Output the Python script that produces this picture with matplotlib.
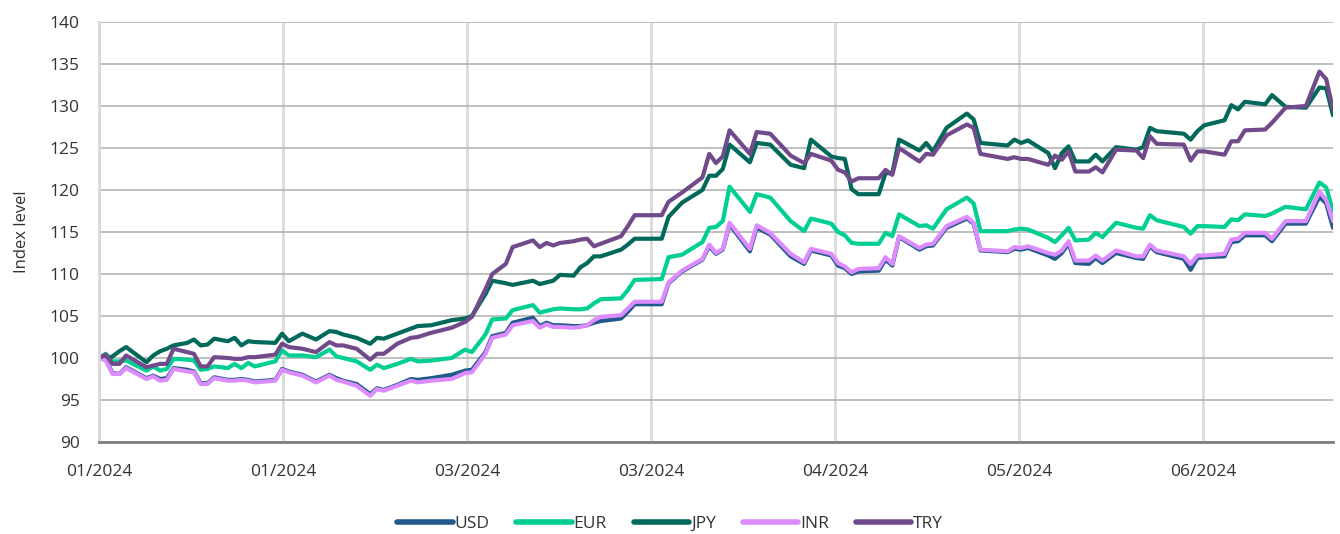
import numpy as np
import matplotlib
matplotlib.use("Agg")
import matplotlib.pyplot as plt

# ================= data =================
# calendar day offset from the start of the index (day 0 = 100)
days = [0, 1, 2, 3, 4, 7, 8, 9, 10, 11, 13, 14, 15, 16, 17, 19, 20, 21, 22, 23,
        26, 27, 28, 30, 32, 34, 35, 36, 38, 40, 41, 42, 44, 46, 47, 49, 52, 54, 55, 57,
        58, 60, 61, 64, 65, 66, 67, 68, 70, 71, 72, 73, 74, 77, 78, 79, 83, 84, 86, 89,
        90, 91, 92, 93, 96, 97, 99, 102, 104, 105, 108, 109, 110, 111, 112, 115, 116, 117, 118, 121,
        122, 123, 125, 128, 129, 130, 134, 135, 136, 137, 140, 141, 142, 143, 144, 146, 147, 148, 150, 153,
        154, 155, 156, 160, 161, 162, 163, 166, 167, 168, 169, 172, 173, 175, 178, 180, 181, 182]

usd = [100.0, 99.8, 98.2, 98.1, 98.9, 97.6, 97.9, 97.5, 97.6, 98.8, 98.6, 98.4, 97.0, 97.0, 97.7, 97.4, 97.4, 97.5, 97.4, 97.2,
       97.4, 98.7, 98.4, 98.0, 97.2, 98.0, 97.6, 97.3, 96.9, 95.7, 96.4, 96.2, 96.8, 97.5, 97.4, 97.6, 98.0, 98.5, 98.6, 100.7,
       102.6, 103.0, 104.2, 104.8, 103.8, 104.2, 103.9, 103.9, 103.8, 103.8, 103.9, 104.2, 104.4, 104.7, 105.5, 106.4, 106.4, 108.9, 110.3, 111.7,
       113.3, 112.4, 112.9, 115.9, 112.7, 115.5, 114.7, 112.1, 111.2, 112.8, 112.2, 111.0, 110.7, 110.0, 110.3, 110.4, 111.7, 111.0, 114.4, 112.9,
       113.3, 113.4, 115.5, 116.6, 116.0, 112.8, 112.6, 113.0, 112.9, 113.1, 112.2, 111.8, 112.5, 113.6, 111.3, 111.2, 111.9, 111.3, 112.5, 111.9,
       111.8, 113.3, 112.6, 111.8, 110.5, 111.9, 112.0, 112.1, 113.8, 113.9, 114.6, 114.6, 113.9, 116.0, 116.0, 119.2, 118.4, 115.5]

eur = [100.0, 100.5, 99.6, 99.6, 99.7, 98.5, 99.0, 98.5, 98.7, 99.9, 99.8, 99.7, 98.6, 98.7, 99.0, 98.8, 99.3, 98.8, 99.4, 99.0,
       99.6, 100.9, 100.3, 100.3, 100.1, 101.0, 100.2, 100.0, 99.6, 98.6, 99.2, 98.8, 99.3, 99.9, 99.6, 99.7, 100.0, 101.0, 100.7, 102.8,
       104.6, 104.7, 105.7, 106.3, 105.4, 105.6, 105.8, 105.9, 105.8, 105.8, 105.9, 106.5, 107.0, 107.1, 108.1, 109.3, 109.4, 112.0, 112.3, 113.8,
       115.5, 115.6, 116.3, 120.4, 117.4, 119.5, 119.1, 116.3, 115.1, 116.6, 116.0, 115.0, 114.6, 113.7, 113.6, 113.6, 114.9, 114.5, 117.1, 115.7,
       115.8, 115.4, 117.7, 119.1, 118.4, 115.1, 115.1, 115.3, 115.4, 115.3, 114.3, 113.8, 114.6, 115.5, 114.0, 114.1, 114.9, 114.4, 116.1, 115.5,
       115.4, 117.0, 116.4, 115.6, 114.8, 115.7, 115.7, 115.6, 116.5, 116.4, 117.1, 116.9, 117.2, 118.0, 117.7, 120.9, 120.3, 117.5]

jpy = [100.0, 99.9, 100.2, 100.8, 101.3, 99.5, 100.3, 100.8, 101.1, 101.5, 101.8, 102.2, 101.5, 101.6, 102.3, 102.0, 102.4, 101.5, 102.0, 101.9,
       101.8, 102.9, 102.0, 102.9, 102.2, 103.2, 103.1, 102.8, 102.4, 101.7, 102.4, 102.3, 102.9, 103.5, 103.8, 103.9, 104.5, 104.7, 105.0, 107.6,
       109.2, 108.9, 108.7, 109.2, 108.8, 109.0, 109.2, 109.9, 109.8, 110.8, 111.3, 112.1, 112.1, 112.9, 113.5, 114.2, 114.2, 116.8, 118.5, 120.0,
       121.7, 121.7, 122.5, 125.4, 123.3, 125.6, 125.4, 123.0, 122.6, 126.0, 124.0, 123.8, 123.7, 120.1, 119.5, 119.5, 122.0, 122.0, 126.0, 124.7,
       125.6, 124.6, 127.4, 129.1, 128.4, 125.6, 125.3, 126.0, 125.6, 125.9, 124.4, 122.6, 124.4, 125.2, 123.4, 123.4, 124.2, 123.4, 125.1, 124.8,
       125.1, 127.4, 127.0, 126.7, 126.0, 127.0, 127.7, 128.3, 130.1, 129.6, 130.5, 130.2, 131.3, 129.9, 129.8, 132.2, 132.1, 128.9]

inr = [100.0, 99.7, 98.1, 98.1, 98.8, 97.5, 97.8, 97.3, 97.4, 98.7, 98.4, 98.3, 96.9, 96.9, 97.6, 97.3, 97.3, 97.4, 97.3, 97.1,
       97.3, 98.6, 98.3, 97.9, 97.1, 97.9, 97.4, 97.2, 96.7, 95.5, 96.3, 96.1, 96.7, 97.3, 97.1, 97.3, 97.5, 98.2, 98.3, 100.5,
       102.4, 102.8, 103.9, 104.4, 103.6, 104.0, 103.7, 103.7, 103.6, 103.7, 103.9, 104.5, 104.9, 105.1, 105.9, 106.7, 106.7, 109.0, 110.4, 111.8,
       113.5, 112.5, 113.0, 116.1, 113.0, 115.8, 114.9, 112.4, 111.4, 113.0, 112.4, 111.3, 110.9, 110.2, 110.6, 110.7, 112.0, 111.2, 114.5, 113.1,
       113.5, 113.6, 115.7, 116.8, 116.1, 112.9, 112.7, 113.2, 113.1, 113.3, 112.5, 112.3, 112.8, 113.9, 111.6, 111.6, 112.2, 111.6, 112.8, 112.1,
       112.1, 113.5, 112.8, 112.1, 111.2, 112.2, 112.2, 112.4, 114.1, 114.2, 114.9, 114.9, 114.2, 116.3, 116.3, 119.8, 118.8, 116.3]

try_ = [100.0, 100.4, 99.3, 99.3, 100.3, 98.9, 99.1, 99.3, 99.3, 101.1, 100.7, 100.5, 99.0, 99.0, 100.1, 100.0, 99.9, 99.9, 100.1, 100.1,
        100.4, 101.7, 101.3, 101.1, 100.7, 101.9, 101.5, 101.5, 101.1, 99.8, 100.5, 100.5, 101.7, 102.4, 102.5, 103.0, 103.6, 104.3, 104.9, 108.2,
        110.0, 111.2, 113.2, 114.0, 113.2, 113.7, 113.4, 113.7, 113.9, 114.1, 114.2, 113.3, 113.6, 114.5, 115.7, 117.0, 117.0, 118.6, 119.7, 121.5,
        124.3, 123.2, 124.0, 127.1, 124.3, 126.9, 126.7, 124.1, 123.2, 124.3, 123.5, 122.4, 122.1, 121.0, 121.4, 121.4, 122.4, 121.8, 125.0, 123.4,
        124.3, 124.2, 126.5, 127.8, 127.4, 124.3, 123.7, 123.9, 123.7, 123.7, 123.0, 124.1, 123.6, 124.6, 122.2, 122.2, 122.7, 122.1, 124.8, 124.7,
        123.8, 126.4, 125.5, 125.4, 123.5, 124.6, 124.6, 124.2, 125.8, 125.8, 127.1, 127.2, 128.0, 129.8, 130.0, 134.1, 133.2, 129.6]

series_names = ["USD", "EUR", "JPY", "INR", "TRY"]
series_values = [usd, eur, jpy, inr, try_]
series_colors = ["#215a8a", "#00cf93", "#00695a", "#dc8cff", "#714a8c"]

tick_labels = ["01/2024", "01/2024", "03/2024", "03/2024", "04/2024", "05/2024", "06/2024"]
y_ticks = list(range(90, 141, 5))

# ================= plot =================
plt.rcParams["font.family"] = ["Open Sans", "DejaVu Sans"]

fig = plt.figure(figsize=(13.4, 5.34), dpi=100)
ax = fig.add_axes([99 / 1340, 1 - 442 / 534, (1333 - 99) / 1340, 420 / 534])

for name, vals, col in zip(series_names, series_values, series_colors):
    ax.plot(days, vals, color=col, lw=3.0, label=name,
            solid_joinstyle="round", solid_capstyle="round")

ax.set_xlim(0, 182)
ax.set_ylim(90, 140)
ax.set_yticks(y_ticks)
ax.set_xticks(np.arange(len(tick_labels)) * 27.15)
ax.set_xticklabels(tick_labels)

# horizontal grid darker, vertical grid lighter and thicker
ax.yaxis.grid(True, color="#b4b4b4", lw=1.2)
ax.xaxis.grid(True, color="#d9d9d9", lw=2.0)
ax.set_axisbelow(True)

for s in ["top", "right"]:
    ax.spines[s].set_visible(False)
ax.spines["left"].set_color("#d9d9d9")
ax.spines["left"].set_linewidth(2.0)
ax.spines["bottom"].set_color("#7f7f7f")
ax.spines["bottom"].set_linewidth(2.0)

ax.tick_params(axis="both", length=0, labelsize=12.5, colors="#333333")
ax.tick_params(axis="x", pad=16)
ax.tick_params(axis="y", pad=14)

ax.set_ylabel("Index level", fontsize=12, color="#333333", labelpad=14)

leg = fig.legend(loc="lower center", bbox_to_anchor=(0.5, -0.025), ncol=5, frameon=False,
                 fontsize=12.5, handlelength=3.2, handletextpad=0.1, columnspacing=1.55)
for line in leg.get_lines():
    line.set_linewidth(4.0)
    line.set_solid_capstyle("round")
for text in leg.get_texts():
    text.set_color("#333333")

fig.savefig("out.png", dpi=100)
